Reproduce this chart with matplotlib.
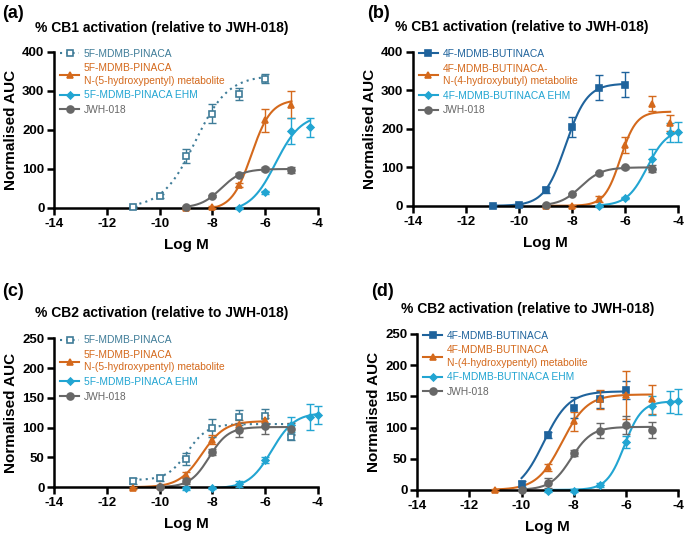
import numpy as np
import matplotlib
matplotlib.use("Agg")
import matplotlib.pyplot as plt

plt.rcParams['font.family'] = ['Liberation Sans', 'DejaVu Sans']
plt.rcParams['axes.unicode_minus'] = False

# colours
C_5F = "#3f7c98"
C_4F = "#1f639c"
C_MET = "#d4691c"
C_EHM = "#22a5d2"
C_JWH = "#676767"

TITLE_CB1 = "% CB1 activation (relative to JWH-018)"
TITLE_CB2 = "% CB2 activation (relative to JWH-018)"

# ---------------- panel (a): CB1, 5F-MDMB-PINACA ----------------
A_PARENT_X = [-11, -10, -9, -8, -7, -6]
A_PARENT_Y = [3, 30, 133, 242, 292, 332]
A_PARENT_E = [2, 5, 18, 25, 15, 12]
A_PARENT_FIT = [0, 340, -8.65, 0.7]        # bottom, top, logEC50, hill

A_MET_X = [-9, -8, -7, -6, -5]
A_MET_Y = [0, 2, 60, 225, 265]
A_MET_E = [2, 2, 5, 30, 35]
A_MET_FIT = [-5, 278, -6.52, 1.17]

A_EHM_X = [-7, -6, -5, -4.3]
A_EHM_Y = [0, 40, 197, 207]
A_EHM_E = [2, 3, 33, 25]
A_EHM_FIT = [-10, 240, -5.6, 0.9]

A_JWH_X = [-9, -8, -7, -6, -5]
A_JWH_Y = [2, 30, 85, 100, 97]
A_JWH_E = [2, 3, 4, 4, 8]
A_JWH_FIT = [0, 100, -7.67, 1.1]

# ---------------- panel (b): CB1, 4F-MDMB-BUTINACA ----------------
B_PARENT_X = [-11, -10, -9, -8, -7, -6]
B_PARENT_Y = [0, 2, 42, 205, 307, 315]
B_PARENT_E = [3, 3, 8, 25, 33, 33]
B_PARENT_FIT = [0, 318, -8.24, 1.08]

B_MET_X = [-9, -8, -7, -6, -5, -4.3]
B_MET_Y = [0, 0, 18, 158, 266, 215]
B_MET_E = [2, 2, 8, 20, 20, 20]
B_MET_FIT = [0, 245, -6.18, 1.45]

B_EHM_X = [-7, -6, -5, -4.3, -4]
B_EHM_Y = [0, 20, 122, 190, 192]
B_EHM_E = [2, 3, 25, 25, 27]
B_EHM_FIT = [0, 200, -5.17, 1.15]

B_JWH_X = [-9, -8, -7, -6, -5]
B_JWH_Y = [2, 30, 85, 100, 97]
B_JWH_E = [2, 3, 4, 4, 8]
B_JWH_FIT = [0, 100, -7.67, 1.1]

# ---------------- panel (c): CB2, 5F-MDMB-PINACA ----------------
C_PARENT_X = [-11, -10, -9, -8, -7, -6, -5]
C_PARENT_Y = [10, 15, 47, 100, 117, 120, 85]
C_PARENT_E = [5, 5, 10, 15, 13, 12, 5]
C_PARENT_FIT = [12, 106, -8.95, 1.15]

C_MET_X = [-11, -10, -9, -8, -7, -6]
C_MET_Y = [-1, 2, 20, 80, 105, 112]
C_MET_E = [2, 2, 5, 8, 8, 10]
C_MET_FIT = [0, 111, -8.4, 1.0]

C_EHM_X = [-9, -8, -7, -6, -5, -4.3, -4]
C_EHM_Y = [-2, -1, 6, 45, 105, 118, 121]
C_EHM_E = [2, 2, 5, 5, 12, 22, 15]
C_EHM_FIT = [-2, 125, -5.75, 1.0]

C_JWH_X = [-10, -9, -8, -7, -6, -5]
C_JWH_Y = [0, 10, 59, 96, 103, 97]
C_JWH_E = [2, 5, 5, 12, 13, 10]
C_JWH_FIT = [0, 101, -8.12, 1.2]

# ---------------- panel (d): CB2, 4F-MDMB-BUTINACA ----------------
D_PARENT_X = [-10, -9, -8, -7, -6]
D_PARENT_Y = [10, 88, 132, 145, 160]
D_PARENT_E = [5, 5, 17, 13, 15]
D_PARENT_FIT = [-5, 158, -9.15, 0.9]

D_MET_X = [-11, -9, -8, -7, -6, -5]
D_MET_Y = [0, 36, 110, 145, 152, 145]
D_MET_E = [2, 5, 15, 15, 38, 23]
D_MET_FIT = [0, 153, -8.45, 0.9]

D_EHM_X = [-9, -8, -7, -6, -5, -4.3, -4]
D_EHM_Y = [-1, -1, 8, 77, 135, 141, 142]
D_EHM_E = [2, 2, 3, 10, 15, 17, 20]
D_EHM_FIT = [0, 142, -6.06, 1.3]

D_JWH_X = [-10, -9, -8, -7, -6, -5]
D_JWH_Y = [0, 11, 59, 95, 104, 96]
D_JWH_E = [2, 8, 5, 12, 14, 13]
D_JWH_FIT = [0, 101, -8.1, 1.1]


def hill(x, p):
	bottom, top, ec50, h = p
	return bottom + (top - bottom) / (1 + 10 ** ((ec50 - x) * h))


def draw_series(ax, x, y, e, fit, color, marker, label, ls='-', mfc=None, ms=5):
	xx = np.linspace(min(x), max(x), 200)
	ax.plot(xx, hill(xx, fit), color=color, lw=1.5, ls=ls, zorder=2)
	ax.errorbar(x, y, yerr=e, fmt='none', ecolor=color, elinewidth=1,
		capsize=3, capthick=1, zorder=3, clip_on=False)
	ax.plot(x, y, ls='none', marker=marker, ms=ms, color=color,
		mfc=color if mfc is None else mfc, mec=color, mew=1.2, zorder=4, clip_on=False)
	# legend handle
	ax.plot([], [], ls=ls, lw=1.5, marker=marker, ms=ms, color=color,
		mfc=color if mfc is None else mfc, mec=color, mew=1.2, label=label)


def style_axes(ax, ymax, ystep):
	ax.set_xlim(-14, -4)
	ax.set_ylim(0, ymax)
	ax.set_xticks(range(-14, -3, 2))
	ax.set_yticks(range(0, ymax + 1, ystep))
	for s in ['top', 'right']:
		ax.spines[s].set_visible(False)
	for s in ['left', 'bottom']:
		ax.spines[s].set_linewidth(1.8)
	ax.tick_params(width=1.8, length=5, labelsize=9.5, pad=2)
	for lab in ax.get_xticklabels() + ax.get_yticklabels():
		lab.set_fontweight('bold')
	ax.set_xlabel('Log M', fontsize=11, fontweight='bold', labelpad=6)
	ax.set_ylabel('Normalised AUC', fontsize=11, fontweight='bold', labelpad=3)
	leg = ax.legend(loc='upper left', bbox_to_anchor=(0.0, 1.06), frameon=False,
		fontsize=7.4, handlelength=1.8, handletextpad=0.5, labelspacing=0.45,
		borderaxespad=0.2, labelcolor='linecolor')
	for t in leg.get_texts():
		t.set_linespacing(1.3)
	return leg


fig = plt.figure(figsize=(6.85, 5.36), dpi=100)

# (a)
ax = fig.add_axes([0.079, 0.612, 0.385, 0.291])
draw_series(ax, A_PARENT_X, A_PARENT_Y, A_PARENT_E, A_PARENT_FIT, C_5F, 's',
	'5F-MDMB-PINACA', ls=(0, (1, 2)), mfc='white', ms=4.5)
draw_series(ax, A_MET_X, A_MET_Y, A_MET_E, A_MET_FIT, C_MET, '^',
	'5F-MDMB-PINACA\nN-(5-hydroxypentyl) metabolite')
draw_series(ax, A_EHM_X, A_EHM_Y, A_EHM_E, A_EHM_FIT, C_EHM, 'D',
	'5F-MDMB-PINACA EHM', ms=3.5)
draw_series(ax, A_JWH_X, A_JWH_Y, A_JWH_E, A_JWH_FIT, C_JWH, 'o', 'JWH-018')
style_axes(ax, 400, 100)

# (b)
ax = fig.add_axes([0.603, 0.616, 0.387, 0.287])
draw_series(ax, B_PARENT_X, B_PARENT_Y, B_PARENT_E, B_PARENT_FIT, C_4F, 's',
	'4F-MDMB-BUTINACA')
draw_series(ax, B_MET_X, B_MET_Y, B_MET_E, B_MET_FIT, C_MET, '^',
	'4F-MDMB-BUTINACA-\nN-(4-hydroxybutyl) metabolite')
draw_series(ax, B_EHM_X, B_EHM_Y, B_EHM_E, B_EHM_FIT, C_EHM, 'D',
	'4F-MDMB-BUTINACA EHM', ms=3.5)
draw_series(ax, B_JWH_X, B_JWH_Y, B_JWH_E, B_JWH_FIT, C_JWH, 'o', 'JWH-018')
style_axes(ax, 400, 100)

# (c)
ax = fig.add_axes([0.079, 0.091, 0.385, 0.278])
draw_series(ax, C_PARENT_X, C_PARENT_Y, C_PARENT_E, C_PARENT_FIT, C_5F, 's',
	'5F-MDMB-PINACA', ls=(0, (1, 2)), mfc='white', ms=4.5)
draw_series(ax, C_MET_X, C_MET_Y, C_MET_E, C_MET_FIT, C_MET, '^',
	'5F-MDMB-PINACA\nN-(5-hydroxypentyl) metabolite')
draw_series(ax, C_EHM_X, C_EHM_Y, C_EHM_E, C_EHM_FIT, C_EHM, 'D',
	'5F-MDMB-PINACA EHM', ms=3.5)
draw_series(ax, C_JWH_X, C_JWH_Y, C_JWH_E, C_JWH_FIT, C_JWH, 'o', 'JWH-018')
style_axes(ax, 250, 50)

# (d)
ax = fig.add_axes([0.609, 0.086, 0.381, 0.291])
draw_series(ax, D_PARENT_X, D_PARENT_Y, D_PARENT_E, D_PARENT_FIT, C_4F, 's',
	'4F-MDMB-BUTINACA')
draw_series(ax, D_MET_X, D_MET_Y, D_MET_E, D_MET_FIT, C_MET, '^',
	'4F-MDMB-BUTINACA\nN-(4-hydroxypentyl) metabolite')
draw_series(ax, D_EHM_X, D_EHM_Y, D_EHM_E, D_EHM_FIT, C_EHM, 'D',
	'4F-MDMB-BUTINACA EHM', ms=3.5)
draw_series(ax, D_JWH_X, D_JWH_Y, D_JWH_E, D_JWH_FIT, C_JWH, 'o', 'JWH-018')
style_axes(ax, 250, 50)

# titles and panel letters (pixel positions converted to figure fractions)
W, H = 685.0, 536.0
fig.text(162 / W, 1 - 28 / H, TITLE_CB1, ha='center', va='center', fontsize=10, fontweight='bold')
fig.text(522 / W, 1 - 27 / H, TITLE_CB1, ha='center', va='center', fontsize=10, fontweight='bold')
fig.text(162 / W, 1 - 313 / H, TITLE_CB2, ha='center', va='center', fontsize=10, fontweight='bold')
fig.text(528 / W, 1 - 309 / H, TITLE_CB2, ha='center', va='center', fontsize=10, fontweight='bold')
fig.text(2 / W, 1 - 14 / H, '(a)', ha='left', va='center', fontsize=13, fontweight='bold')
fig.text(367 / W, 1 - 13 / H, '(b)', ha='left', va='center', fontsize=13, fontweight='bold')
fig.text(2 / W, 1 - 291 / H, '(c)', ha='left', va='center', fontsize=13, fontweight='bold')
fig.text(371 / W, 1 - 291 / H, '(d)', ha='left', va='center', fontsize=13, fontweight='bold')

fig.savefig('out.png', dpi=100)
